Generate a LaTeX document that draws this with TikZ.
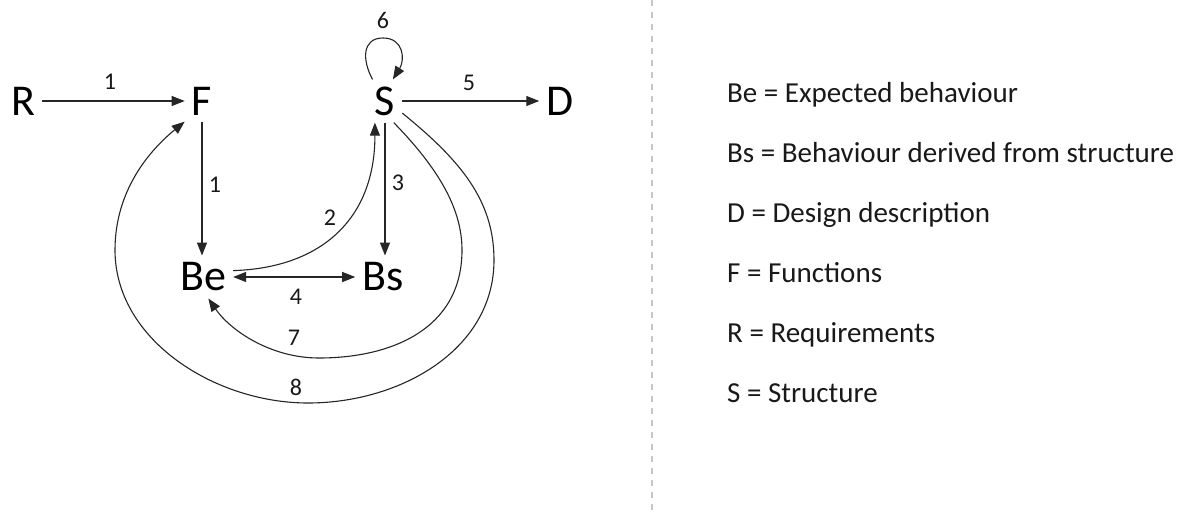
\documentclass[tikz,border=0pt]{standalone}
\usepackage{fontspec}
\setmainfont{Carlito}
\usetikzlibrary{arrows.meta}
\begin{document}
\begin{tikzpicture}[x=1pt,y=-1pt,
  big/.style={inner sep=7pt, font=\fontsize{44}{44}\selectfont, text=black},
  lbl/.style={inner sep=0pt, font=\fontsize{24}{24}\selectfont, text=black!90},
  leg/.style={anchor=base west, inner sep=0pt, font=\fontsize{29}{29}\selectfont, text=black!90},
  conn/.style={line width=1.1pt, draw=black!85, -{Triangle[length=13pt,width=10pt]}},
  conn2/.style={line width=1.1pt, draw=black!85, {Triangle[length=13pt,width=10pt]}-{Triangle[length=13pt,width=10pt]}}]
\useasboundingbox (0,0) rectangle (1184,514);
\fill[white] (0,0) rectangle (1184,514);

% nodes
\node[big] (R)  at (23,101)  {R};
\node[big] (F)  at (202,101) {F};
\node[big] (S)  at (385,101) {S};
\node[big] (D)  at (560,101) {D};
\node[big] (Be) at (203,277) {Be};
\node[big] (Bs) at (383,277) {Bs};

% connectors
\draw[conn] (R.east) -- (F.west);
\draw[conn] (F.south) -- (F.south |- Be.north);
\draw[conn] (S.south) -- (S.south |- Bs.north);
\draw[conn] (S.east) -- (D.west);
\draw[conn2] (Be.east) -- (Bs.west);
\draw[conn] (Be.12) .. controls (320,268) and (375,220) .. (S.245);
\draw[conn] (S.120) .. controls (362,60) and (362,38) .. (383,38)
                    .. controls (404,38) and (405,60) .. (S.70);
\draw[conn] (S.-68) .. controls (440,170) and (462,210) .. (462,250)
                    .. controls (462,330) and (390,358) .. (319,358)
                    .. controls (270,358) and (230,330) .. (Be.-76);
\draw[conn] (S.-35) .. controls (460,160) and (494,200) .. (494,260)
                    .. controls (494,350) and (400,403) .. (308,403)
                    .. controls (215,403) and (115,340) .. (115,250)
                    .. controls (115,190) and (150,150) .. (F.230);

% labels
\node[lbl] (l1a) at (110,82)  {1};
\node[lbl] (l1b) at (215,185) {1};
\node[lbl] (l2)  at (330,218) {2};
\node[lbl] (l3)  at (398,183) {3};
\node[lbl] (l4)  at (296,297) {4};
\node[lbl] (l5)  at (469,83)  {5};
\node[lbl] (l6)  at (383,20)  {6};
\node[lbl] (l7)  at (294,338) {7};
\node[lbl] (l8)  at (296,387) {8};

% separator
\draw[black!22, line width=2pt, dash pattern=on 6pt off 6pt] (652,0) -- (652,514);

% legend
\node[leg] (g1) at (727,102) {Be = Expected behaviour};
\node[leg] (g2) at (727,162) {Bs = Behaviour derived from structure};
\node[leg] (g3) at (727,222) {D = Design description};
\node[leg] (g4) at (727,282) {F = Functions};
\node[leg] (g5) at (727,342) {R = Requirements};
\node[leg] (g6) at (727,402) {S = Structure};
\end{tikzpicture}
\end{document}
